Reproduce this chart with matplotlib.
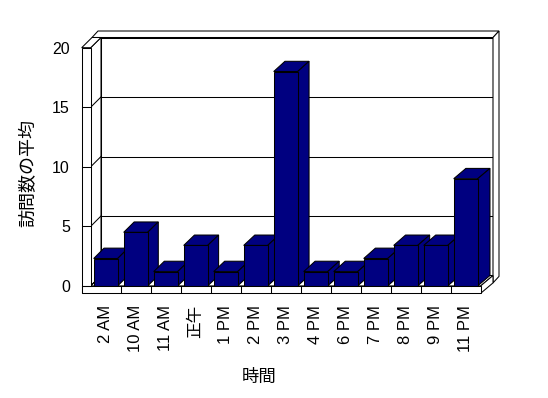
import matplotlib
matplotlib.use('Agg')
import matplotlib.pyplot as plt
from matplotlib.patches import Polygon
from matplotlib.lines import Line2D
from matplotlib.transforms import IdentityTransform

plt.rcParams['font.family'] = ['Liberation Sans', 'Noto Sans CJK JP']

hours = ['2 AM', '10 AM', '11 AM', '正午', '1 PM', '2 PM', '3 PM',
         '4 PM', '6 PM', '7 PM', '8 PM', '9 PM', '11 PM']
avg_visits = [2.3, 4.5, 1.2, 3.4, 1.2, 3.4, 18, 1.2, 1.2, 2.3, 3.4, 3.4, 9]
y_ticks = [0, 5, 10, 15, 20]

W, H = 548, 398
NAVY = '#000080'
LW = 0.75

fig = plt.figure(figsize=(W / 100, H / 100), dpi=100)


def frac(left, top, right, bottom):
    # pixel box (top-origin) -> figure fraction
    return [left / W, 1 - bottom / H, (right - left) / W, (bottom - top) / H]


# back wall plane and front plane share the same data scales
axb = fig.add_axes(frac(101, 37.5, 493, 275.5), zorder=0)
axf = fig.add_axes(frac(90.7, 47.7, 480.7, 285.9), zorder=1)
n = len(hours)
for a in (axb, axf):
    a.set_xlim(-0.5, n - 0.5)
    a.set_ylim(y_ticks[0], y_ticks[-1])
    a.set_autoscale_on(False)

axb.set_xticks([])
axb.set_yticks([])
for s in axb.spines.values():
    s.set_linewidth(LW)
for t in y_ticks[1:-1]:
    axb.axhline(t, color='black', lw=LW)

axf.patch.set_alpha(0)
for s in axf.spines.values():
    s.set_visible(False)


def F(x, y):
    return axf.transData.transform((x, y))


def B(x, y):
    return axb.transData.transform((x, y))


ident = IdentityTransform()


def poly(pts, fc, z):
    p = Polygon(pts, closed=True, facecolor=fc, edgecolor='black', lw=LW,
                transform=ident, zorder=z)
    axf.add_artist(p)
    p.set_clip_on(False)


def seg(p0, p1, z):
    l = Line2D([p0[0], p1[0]], [p0[1], p1[1]], color='black', lw=LW,
               transform=ident, zorder=z)
    axf.add_artist(l)
    l.set_clip_on(False)


x_lo, x_hi = -0.5, n - 0.5
wall_w, floor_h = 9, 7.4
tx, ty = 6, 6.5

# left wall inner face and floor top face
poly([F(x_lo, 0), F(x_lo, 20), B(x_lo, 20), B(x_lo, 0)], 'white', 0.5)
poly([F(x_lo, 0), F(x_hi, 0), B(x_hi, 0), B(x_lo, 0)], 'white', 0.5)
for t in y_ticks[:-1]:
    seg(F(x_lo, t), B(x_lo, t), 0.6)

# back wall thickness strips
bl, b20, br, b0 = B(x_lo, 20), B(x_hi, 20), B(x_hi, 20), B(x_hi, 0)
poly([(bl[0] - wall_w, bl[1]), (bl[0] - wall_w + tx, bl[1] + ty),
      (br[0] + tx, br[1] + ty), (br[0], br[1])], 'white', 0.5)
poly([(br[0], br[1]), (br[0] + tx, br[1] + ty),
      (b0[0] + tx, b0[1] - floor_h + ty), (b0[0], b0[1] - floor_h)], 'white', 0.5)

# left wall top
fl20 = F(x_lo, 20)
poly([(fl20[0] - wall_w, fl20[1]), fl20, bl, (bl[0] - wall_w, bl[1])], 'white', 0.5)

# floor right side
fr0 = F(x_hi, 0)
poly([fr0, (fr0[0], fr0[1] - floor_h), (b0[0], b0[1] - floor_h), b0], 'white', 0.5)

# bars: front faces from bar(), sides and tops follow the same data
bars = axf.bar(range(n), avg_visits, width=0.8, color=NAVY,
               edgecolor='black', linewidth=LW, zorder=3)
for r in bars:
    x0, x1, h = r.get_x(), r.get_x() + r.get_width(), r.get_height()
    poly([F(x0, h), F(x1, h), B(x1, h), B(x0, h)], NAVY, 2)
    poly([F(x1, 0), F(x1, h), B(x1, h), B(x1, 0)], NAVY, 2)

# front faces of wall and floor slabs
fl0 = F(x_lo, 0)
poly([(fl0[0] - wall_w, fl0[1] - floor_h), (fl0[0] - wall_w, fl20[1]),
      fl20, fl0], 'white', 4)
poly([(fl0[0] - wall_w, fl0[1] - floor_h), (fl0[0] - wall_w, fl0[1]),
      fr0, (fr0[0], fr0[1] - floor_h)], 'white', 4)
for t in y_ticks[:-1]:
    p = F(x_lo, t)
    seg((p[0] - wall_w, p[1]), p, 5)
for i in range(n - 1):
    p = F(i + 0.5, 0)
    seg(p, (p[0], p[1] - floor_h), 5)

axf.set_yticks(y_ticks)
axf.set_yticklabels([str(t) for t in y_ticks], fontsize=11.5)
axf.set_xticks(range(n))
axf.set_xticklabels(hours, rotation=90, fontsize=12)
axf.tick_params(axis='y', length=0, pad=15)
axf.tick_params(axis='x', length=0, pad=13.5)

fig.text(29 / W, 1 - 173 / H, '訪問数の平均', rotation=90, ha='center',
         va='center', fontsize=13)
fig.text(259 / W, 1 - 376.7 / H, '時間', ha='center', va='center', fontsize=12.5)

fig.savefig('out.png', dpi=100)
